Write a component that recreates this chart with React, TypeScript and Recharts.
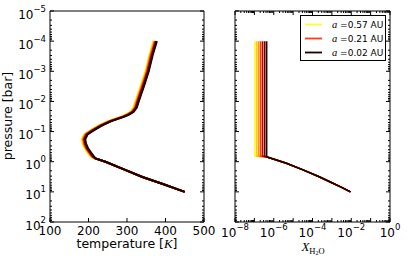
import { LineChart, Line, XAxis, YAxis, Legend, Label } from 'recharts'

// pressure levels [bar] of the upper (stratosphere) part of each profile
const P_UPPER = [1e-4, 3e-4, 1e-3, 3e-3, 1e-2, 1.6e-2, 2.2e-2, 2.7e-2, 3.2e-2, 4.5e-2, 6.3e-2, 0.09, 0.125, 0.18, 0.25, 0.35, 0.5, 0.68]

// temperature [K] per orbit, yellow (far) -> black (close)
const T_S1 = [368.5, 357.5, 347.5, 335.5, 321.5, 316.5, 308.5, 297.5, 284.5, 250.5, 225.5, 205.5, 188.5, 182.5, 184.5, 189.5, 197.5, 205.5]
const T_S2 = [370, 359, 349, 337, 323, 318, 310, 299, 286, 252, 227, 207, 190, 184, 186, 191, 199, 207]
const T_S3 = [371.5, 360.5, 350.5, 338.5, 324.5, 319.5, 311.5, 300.5, 287.5, 253.5, 228.5, 208.5, 191.5, 185.5, 187.5, 192.5, 200.5, 208.5]
const T_S4 = [373, 362, 352, 340, 326, 321, 313, 302, 289, 255, 230, 210, 193, 187, 189, 194, 202, 210]
const T_S5 = [374.5, 363.5, 353.5, 341.5, 327.5, 322.5, 314.5, 303.5, 290.5, 256.5, 231.5, 211.5, 194.5, 188.5, 190.5, 195.5, 203.5, 211.5]
const T_S6 = [376, 365, 355, 343, 329, 324, 316, 305, 292, 258, 233, 213, 196, 190, 192, 197, 205, 213]
const T_S7 = [377.5, 366.5, 356.5, 344.5, 330.5, 325.5, 317.5, 306.5, 293.5, 259.5, 234.5, 214.5, 197.5, 191.5, 193.5, 198.5, 206.5, 214.5]

// common deep (troposphere) part
const P_LOWER = [0.78, 1, 1.8, 3.2, 5.6, 10]
const T_LOWER = [218, 244, 292, 340, 395, 450]

// water mixing ratio: constant cold-trap value above the condensation level
const X_COLD = [1.05e-7, 1.3e-7, 1.65e-7, 2.1e-7, 2.65e-7, 3.4e-7, 4.3e-7]
const P_COLD = [1e-4, 0.65]
const P_DEEP = [0.71, 1.12, 1.9, 3.16, 5, 7.1, 10]
const X_DEEP = [5e-7, 4.5e-6, 3.5e-5, 2.2e-4, 1e-3, 3.2e-3, 9.1e-3]

const COLORS = ['#ffff22', '#ffcc00', '#ff9500', '#ff3a10', '#c40000', '#650000', '#1c0000']
const LEGEND_A = ['0.57', '', '', '0.21', '', '', '0.02']
const T_ALL = [T_S1, T_S2, T_S3, T_S4, T_S5, T_S6, T_S7]

const P_MAJOR = [1e-5, 1e-4, 1e-3, 1e-2, 1e-1, 1, 10, 100]
const X_MAJOR = [1e-8, 1e-7, 1e-6, 1e-5, 1e-4, 1e-3, 1e-2, 1e-1, 1]
const T_TICKS = [100, 200, 300, 400, 500]

const withMinor = (majors: number[]) => {
  const out: number[] = []
  majors.forEach((m, i) => {
    out.push(m)
    if (i < majors.length - 1) for (let k = 2; k < 10; k++) out.push(m * k)
  })
  return out
}
const P_TICKS = withMinor(P_MAJOR)
const X_TICKS = withMinor(X_MAJOR)

const tempSeries = T_ALL.map((ts, i) => ({
  color: COLORS[i],
  name: LEGEND_A[i],
  data: [
    ...P_UPPER.map((p, j) => ({ t: ts[j], p })),
    ...P_LOWER.map((p, j) => ({ t: T_LOWER[j], p })),
  ],
}))

const waterSeries = X_COLD.map((x, i) => ({
  color: COLORS[i],
  name: LEGEND_A[i],
  data: [
    ...P_COLD.map(p => ({ x, p })),
    ...P_DEEP.map((p, j) => ({ x: X_DEEP[j], p })),
  ],
}))

const FONT = 'DejaVu Sans, sans-serif'
const MATH = 'Liberation Serif, serif'
const MINUS = '\u2212'

const isDecade = (v: number) => Math.abs(Math.log10(v) - Math.round(Math.log10(v))) < 1e-6
const expOf = (v: number) => {
  const e = Math.round(Math.log10(v))
  return e < 0 ? MINUS + Math.abs(e) : String(e)
}

// inward ticks, matplotlib classic style
const yTick = (side: 'left' | 'right', showLabel: boolean) => (props: any) => {
  const { x, y, payload } = props
  const v = payload.value
  const major = isDecade(v)
  const dir = side === 'left' ? 1 : -1
  return (
    <g>
      <line x1={x} y1={y} x2={x + dir * (major ? 4 : 2)} y2={y} stroke="#000" strokeWidth={1} />
      {showLabel && major && (
        <text x={x - 4} y={y + 7.5} textAnchor="end" fontSize={12} fontFamily={FONT} fill="#000">
          10<tspan dy={-7} fontSize={8.5}>{expOf(v)}</tspan>
        </text>
      )}
    </g>
  )
}

const xTick = (side: 'bottom' | 'top', mode: 'none' | 'lin' | 'log') => (props: any) => {
  const { x, y, payload } = props
  const v = payload.value
  const major = mode === 'lin' || isDecade(v)
  const dir = side === 'bottom' ? -1 : 1
  const showExp = mode === 'log' && Math.round(Math.log10(v)) % 2 === 0
  return (
    <g>
      <line x1={x} y1={y} x2={x} y2={y + dir * (major ? 4 : 2)} stroke="#000" strokeWidth={1} />
      {mode === 'lin' && (
        <text x={x} y={y + 12.5} textAnchor="middle" fontSize={12} fontFamily={FONT} fill="#000">{v}</text>
      )}
      {showExp && major && (
        <text x={x} y={y + 14.5} textAnchor="middle" fontSize={12} fontFamily={FONT} fill="#000">
          10<tspan dy={-7} fontSize={8.5}>{expOf(v)}</tspan>
        </text>
      )}
    </g>
  )
}

const renderLegend = () => (
  <svg width={86} height={46}>
    <rect x={0.5} y={0.5} width={85} height={45} fill="#fff" stroke="#000" strokeWidth={1} />
    {[0, 3, 6].map((i, r) => (
      <g key={i}>
        <line x1={5} x2={22} y1={9.5 + r * 14} y2={9.5 + r * 14} stroke={COLORS[i]} strokeWidth={1.8} />
        <text x={32} y={13 + r * 14} fontSize={9} fontFamily={FONT} fill="#000">
          <tspan fontFamily={MATH} fontStyle="italic" fontSize={10.5}>a</tspan>
          <tspan> =</tspan>{LEGEND_A[i]} AU
        </text>
      </g>
    ))}
  </svg>
)

const axisCommon = { axisLine: { stroke: '#000', strokeWidth: 1 }, tickLine: false, tickSize: 0, tickMargin: 0, interval: 0 as const }

function TemperaturePanel() {
  return (
    <LineChart width={230} height={261} margin={{ top: 0, right: 20, bottom: 0, left: 0 }}>
      <XAxis xAxisId="b" dataKey="t" type="number" domain={[100, 500]} ticks={T_TICKS} height={39} orientation="bottom"
        tick={xTick('bottom', 'lin')} {...axisCommon}>
        <Label content={() => (
          <text x={127} y={248} textAnchor="middle" fontSize={12.5} fontFamily={FONT} fill="#000">
            temperature [<tspan fontFamily={MATH} fontStyle="italic" fontSize={13}>K</tspan>]
          </text>
        )} />
      </XAxis>
      <XAxis xAxisId="t" dataKey="t" type="number" domain={[100, 500]} ticks={T_TICKS} height={11} orientation="top"
        tick={xTick('top', 'none')} {...axisCommon} />
      <YAxis yAxisId="l" dataKey="p" type="number" scale="log" domain={[1e-5, 100]} reversed allowDataOverflow
        ticks={P_TICKS} width={50} orientation="left" tick={yTick('left', true)} {...axisCommon}>
        <Label content={() => (
          <text x={12} y={116} transform="rotate(-90 12 116)" textAnchor="middle" fontSize={12.5} fontFamily={FONT} fill="#000">
            pressure [bar]
          </text>
        )} />
      </YAxis>
      <YAxis yAxisId="r" dataKey="p" type="number" scale="log" domain={[1e-5, 100]} reversed allowDataOverflow
        ticks={P_TICKS} width={6} orientation="right" tick={yTick('right', false)} {...axisCommon} />
      {tempSeries.map((s, i) => (
        <Line key={i} xAxisId="b" yAxisId="l" data={s.data} dataKey="p" type="linear" stroke={s.color}
          strokeWidth={2} dot={false} isAnimationActive={false} />
      ))}
    </LineChart>
  )
}

function WaterPanel() {
  return (
    <LineChart width={207} height={261} margin={{ top: 0, right: 0, bottom: 0, left: 0 }}>
      <XAxis xAxisId="b" dataKey="x" type="number" scale="log" domain={[1e-8, 1]} allowDataOverflow ticks={X_TICKS}
        height={39} orientation="bottom" tick={xTick('bottom', 'log')} {...axisCommon}>
        <Label content={() => (
          <text x={113} y={251} textAnchor="middle" fill="#000" fontFamily={MATH}>
            <tspan fontStyle="italic" fontSize={13}>X</tspan>
            <tspan fontSize={8.5} dy={2.5}>H</tspan>
            <tspan fontSize={6} dy={1.5}>2</tspan>
            <tspan fontSize={8.5} dy={-1.5}>O</tspan>
          </text>
        )} />
      </XAxis>
      <XAxis xAxisId="t" dataKey="x" type="number" scale="log" domain={[1e-8, 1]} allowDataOverflow ticks={X_TICKS}
        height={11} orientation="top" tick={xTick('top', 'none')} {...axisCommon} />
      <YAxis yAxisId="l" dataKey="p" type="number" scale="log" domain={[1e-5, 100]} reversed allowDataOverflow
        ticks={P_TICKS} width={35} orientation="left" tick={yTick('left', false)} {...axisCommon} />
      <YAxis yAxisId="r" dataKey="p" type="number" scale="log" domain={[1e-5, 100]} reversed allowDataOverflow
        ticks={P_TICKS} width={17} orientation="right" tick={yTick('right', false)} {...axisCommon} />
      {waterSeries.map((s, i) => (
        <Line key={i} xAxisId="b" yAxisId="l" data={s.data} dataKey="p" type="linear" stroke={s.color}
          strokeWidth={1.6} dot={false} isAnimationActive={false} name={s.name} />
      ))}
      <Legend layout="vertical" align="center" verticalAlign="middle" content={renderLegend}
        wrapperStyle={{ left: 100, top: 15, width: 86, height: 46 }} />
    </LineChart>
  )
}

export default function App() {
  return (
    <div style={{ position: 'absolute', left: 0, top: 0, width: 407, height: 261, background: '#fff' }}>
      <div style={{ position: 'absolute', left: 0, top: 0 }}>
        <TemperaturePanel />
      </div>
      <div style={{ position: 'absolute', left: 200, top: 0 }}>
        <WaterPanel />
      </div>
    </div>
  )
}
